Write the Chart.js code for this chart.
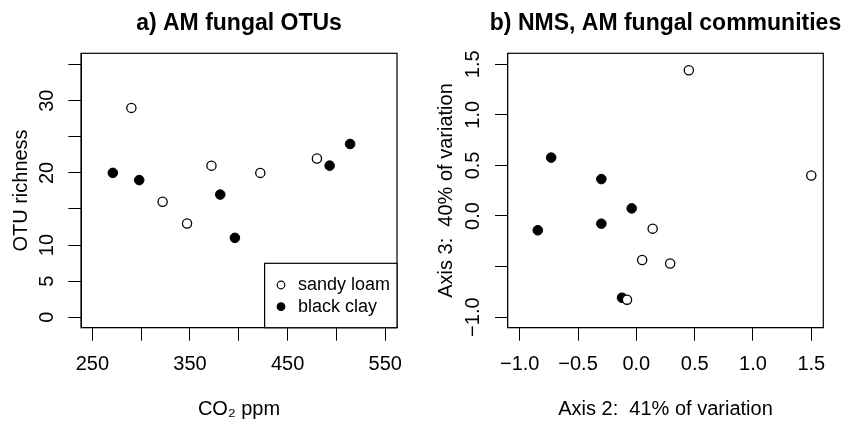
<!DOCTYPE html>
<html><head><meta charset="utf-8">
<script src="https://cdn.jsdelivr.net/npm/chart.js@4.4.1/dist/chart.umd.min.js"></script>
<style>
html,body{margin:0;padding:0;background:#fff;overflow:hidden;width:844px;height:421px;}
#wrap{position:relative;width:844px;height:421px;overflow:hidden;background:#fff;}
canvas{position:absolute;top:0;}
#cA{left:0;}
#cB{left:430px;}
</style></head><body>
<div id="wrap"><canvas id="cA" width="478" height="421"></canvas><canvas id="cB" width="471" height="421"></canvas></div>
<script>
// ---- Panel a) AM fungal OTUs ----
const co2Sandy  = [290, 322, 347, 372, 422, 480];
const richSandy = [29, 16, 13, 21, 20, 22];
const co2Clay   = [271, 298, 381, 396, 493, 514];
const richClay  = [20, 19, 17, 11, 21, 24];
const xTicksA  = [250, 300, 350, 400, 450, 500, 550];
const xLabelsA = ['250', '', '350', '', '450', '', '550'];
const yTicksA  = [0, 5, 10, 15, 20, 25, 30, 35];
const yLabelsA = ['0', '5', '10', '', '20', '', '30', ''];

// ---- Panel b) NMS, AM fungal communities ----
const ax2Sandy = [0.45, 1.50, 0.14, 0.05, 0.29, -0.08];
const ax3Sandy = [1.44, 0.40, -0.125, -0.435, -0.47, -0.827];
const ax2Clay  = [-0.73, -0.30, -0.04, -0.30, -0.845, -0.123];
const ax3Clay  = [0.577, 0.365, 0.075, -0.076, -0.141, -0.808];
const xTicksB  = [-1, -0.5, 0, 0.5, 1, 1.5];
const xLabelsB = ['\u22121.0', '\u22120.5', '0.0', '0.5', '1.0', '1.5'];
const yTicksB  = [-1, -0.5, 0, 0.5, 1, 1.5];
const yLabelsB = ['\u22121.0', '', '0.0', '0.5', '1.0', '1.5'];

const seriesNames = ['sandy loam', 'black clay'];

Chart.defaults.font.family = "'Liberation Sans', Arial, Helvetica, sans-serif";
Chart.defaults.color = '#000';

function pts(xs, ys) { return xs.map((x, i) => ({x: x, y: ys[i]})); }
function labelFor(ticks, labels, v) {
  let best = 0;
  ticks.forEach((t, i) => { if (Math.abs(t - v) < Math.abs(ticks[best] - v)) best = i; });
  return labels[best];
}

const rPlugin = {
  id: 'rstyle',
  afterDraw(chart, args, opts) {
    const ctx = chart.ctx, a = chart.chartArea;
    ctx.save();
    // box around plot region
    ctx.strokeStyle = '#000';
    ctx.lineWidth = 1.2;
    ctx.strokeRect(a.left, a.top, a.right - a.left, a.bottom - a.top);
    // rotated y tick labels (parallel to axis)
    const ys = chart.scales.y;
    ctx.fillStyle = '#000';
    ctx.font = "20px 'Liberation Sans', Arial, sans-serif";
    ctx.textAlign = 'center';
    ctx.textBaseline = 'middle';
    opts.yTicks.forEach((v, i) => {
      const lab = opts.yLabels[i];
      if (!lab) return;
      const p = ys.getPixelForValue(v);
      ctx.save();
      ctx.translate(a.left - 34, p);
      ctx.rotate(-Math.PI / 2);
      ctx.fillText(lab, 0, 0);
      ctx.restore();
    });
    // legend inside plot (panel a only)
    if (opts.legend) {
      const bx = a.right - 132.4, by = a.bottom - 64.4;
      ctx.fillStyle = '#fff';
      ctx.fillRect(bx, by, a.right - bx, a.bottom - by);
      ctx.strokeStyle = '#000';
      ctx.lineWidth = 1.2;
      ctx.strokeRect(bx, by, a.right - bx, a.bottom - by);
      ctx.font = "18px 'Liberation Sans', Arial, sans-serif";
      ctx.textAlign = 'left';
      ctx.textBaseline = 'middle';
      chart.data.datasets.forEach((ds, i) => {
        const cy = by + 21.7 + i * 21.7;
        ctx.beginPath();
        ctx.arc(bx + 16.4, cy, 3.8, 0, Math.PI * 2);
        ctx.fillStyle = ds.pointBackgroundColor;
        ctx.fill();
        ctx.lineWidth = 1.2;
        ctx.strokeStyle = '#000';
        ctx.stroke();
        ctx.fillStyle = '#000';
        ctx.fillText(ds.label, bx + 33.4, cy);
      });
    }
    ctx.restore();
  }
};

function axisCommon(tickLen) {
  return {
    grid: {display: true, drawOnChartArea: false, drawTicks: true, tickLength: tickLen, color: '#000', lineWidth: 1},
    border: {display: true, color: '#000', width: 1}
  };
}

function makeChart(canvasId, cfg) {
  return new Chart(document.getElementById(canvasId), {
    type: 'scatter',
    data: {
      datasets: [
        {label: seriesNames[0], data: cfg.sandy, pointStyle: 'circle', pointRadius: 4.6,
         pointBackgroundColor: '#ffffff', pointBorderColor: '#000000', pointBorderWidth: 1.3, showLine: false},
        {label: seriesNames[1], data: cfg.clay, pointStyle: 'circle', pointRadius: 4.8,
         pointBackgroundColor: '#000000', pointBorderColor: '#000000', pointBorderWidth: 1, showLine: false}
      ]
    },
    options: {
      responsive: false,
      animation: false,
      events: [],
      layout: {padding: 0},
      plugins: {
        legend: {display: false},
        tooltip: {enabled: false},
        title: {display: true, text: cfg.title, color: '#000',
                font: {size: 23, weight: 'bold', lineHeight: 1.2},
                padding: {top: 10.2, bottom: 15.5}},
        rstyle: {yTicks: cfg.yTicks, yLabels: cfg.yLabels, legend: cfg.legend}
      },
      scales: {
        x: Object.assign(axisCommon(13), {
          type: 'linear', position: 'bottom', min: cfg.xMin, max: cfg.xMax,
          afterBuildTicks: s => { s.ticks = cfg.xTicks.map(v => ({value: v})); },
          afterFit: s => { s.height = 93.3; },
          ticks: {display: true, color: '#000', font: {size: 20, lineHeight: 1.2}, padding: 11.8,
                  maxRotation: 0, minRotation: 0, autoSkip: false,
                  callback: v => labelFor(cfg.xTicks, cfg.xLabels, v)},
          title: {display: true, text: cfg.xTitle, color: '#000', font: {size: 20, lineHeight: 1},
                  padding: {top: 0, bottom: 1.5}}
        }),
        y: Object.assign(axisCommon(12.7), {
          type: 'linear', position: 'left', min: cfg.yMin, max: cfg.yMax,
          afterBuildTicks: s => { s.ticks = cfg.yTicks.map(v => ({value: v})); },
          afterFit: s => { s.width = cfg.yWidth; },
          ticks: {display: false},
          title: {display: true, text: cfg.yTitle, color: '#000', font: {size: 20, lineHeight: 1},
                  padding: {top: cfg.yTitlePad, bottom: 0}}
        }),
        // invisible spacer on the right so the title centres over the plot region
        ySpace: {
          type: 'linear', position: 'right', display: true,
          grid: {display: false}, border: {display: false}, ticks: {display: false},
          afterFit: s => { s.width = cfg.yWidth; }
        }
      }
    },
    plugins: [rPlugin]
  });
}

makeChart('cA', {
  title: 'a) AM fungal OTUs',
  sandy: pts(co2Sandy, richSandy), clay: pts(co2Clay, richClay),
  xMin: 238.4, xMax: 562, yMin: -1.44, yMax: 36.56,
  xTicks: xTicksA, xLabels: xLabelsA, yTicks: yTicksA, yLabels: yLabelsA,
  xTitle: 'CO\u2082 ppm', yTitle: 'OTU richness',
  yWidth: 81, yTitlePad: 11.3, legend: true
});

makeChart('cB', {
  title: 'b) NMS, AM fungal communities',
  sandy: pts(ax2Sandy, ax3Sandy), clay: pts(ax2Clay, ax3Clay),
  xMin: -1.103, xMax: 1.603, yMin: -1.104, yMax: 1.608,
  xTicks: xTicksB, xLabels: xLabelsB, yTicks: yTicksB, yLabels: yLabelsB,
  xTitle: 'Axis 2:  41% of variation', yTitle: 'Axis 3:  40% of variation',
  yWidth: 77.7, yTitlePad: 6.3, legend: false
});
</script>
</body></html>
